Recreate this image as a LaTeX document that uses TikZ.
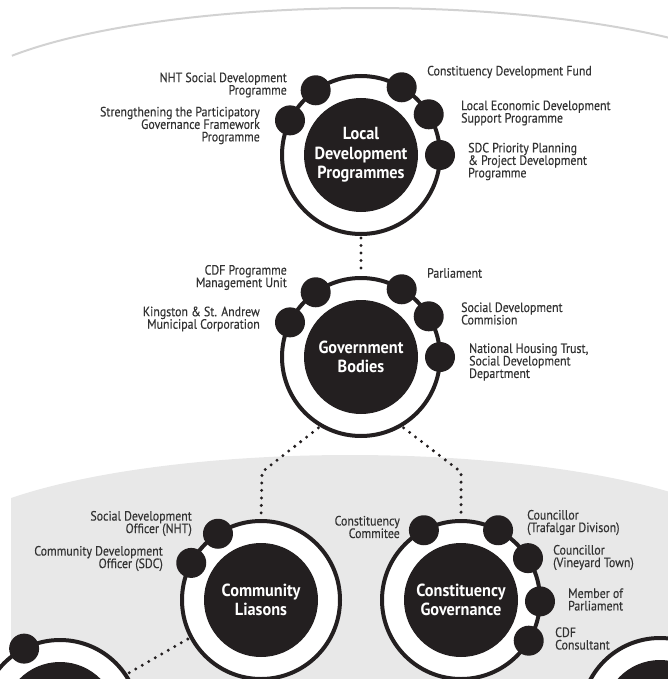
\documentclass[tikz,border=0pt]{standalone}
\usepackage{fontspec}
\newfontfamily\condfont[FakeStretch=0.88,FakeBold=0.3]{PT Sans}
\newfontfamily\condboldfont[FakeStretch=0.93]{PT Sans Bold}
\usepackage{tikz}
\usetikzlibrary{shapes,calc}
\usetikzlibrary{arrows,positioning,backgrounds}
\definecolor{discblack}{HTML}{231F20}
\definecolor{labelgray}{HTML}{333333}
\definecolor{panelgray}{HTML}{E8E8E8}
\definecolor{edgegray}{HTML}{D2D2D2}

\begin{document}
\begin{tikzpicture}[x=1pt, y=-1pt,
  disc/.style={circle, fill=discblack, minimum size=114pt, inner sep=0pt, text=white, align=center, font=\condboldfont\fontsize{17.5}{19.5}\selectfont},
  ring/.style={circle, draw=discblack, line width=4pt, fill=white, minimum size=158pt, inner sep=0pt, outer sep=0pt},
  dot/.style={circle, fill=discblack, minimum size=30pt, inner sep=0pt},
  lbl/.style={text=labelgray, inner sep=0pt, font=\condfont\fontsize{13.5}{12.5}\selectfont},
  lblr/.style={lbl, anchor=east, align=right},
  lbll/.style={lbl, anchor=west, align=left},
  link/.style={discblack, line width=3.3pt, dash pattern=on 0pt off 7.5pt, line cap=round, shorten <=4pt, shorten >=4pt}]
\useasboundingbox (0,0) rectangle (668,679);

\draw[edgegray, line width=2pt] plot[domain=148.5:44.8, samples=80] ({370+420*cos(\x)}, {108-100*sin(\x)});
\fill[panelgray] plot[domain=143.8:40.8, samples=80] ({350+420*cos(\x)}, {560-105*sin(\x)}) -- (668,679) -- (11,679) -- cycle;

% local development programmes
\node[ring] (lpring) at (361,155) {};
\node[disc] (lp) at (361,155) {Local\\Development\\Programmes};
\foreach \a/\n in {125/1,154/2,59/3,31/4,0/5}
  \node[dot] (lp\n) at (lpring.\a) {};
\node[lblr] (lpl1) at (287,85) {NHT Social Development\\Programme};
\node[lblr] (lpl2) at (260,125.5) {Strengthening the Participatory\\Governance Framework\\Programme};
\node[lbll] (lpl3) at (427,72) {Constituency Development Fund};
\node[lbll] (lpl4) at (461,113) {Local Economic Development\\Support Programme};
\node[lbll] (lpl5) at (468,161.5) {SDC Priority Planning\\\& Project Development\\Programme};

% government bodies
\node[ring] (gbring) at (361,357) {};
\node[disc] (gb) at (361,357) {Government\\Bodies};
\foreach \a/\n in {125/1,154/2,59/3,31/4,0/5}
  \node[dot] (gb\n) at (gbring.\a) {};
\node[lblr] (gbl1) at (287,277.5) {CDF Programme\\Management Unit};
\node[lblr] (gbl2) at (260,319) {Kingston \& St. Andrew\\Municipal Corporation};
\node[lbll] (gbl3) at (427,273) {Parliament};
\node[lbll] (gbl4) at (461,313.5) {Social Development\\Commision};
\node[lbll] (gbl5) at (469,362) {National Housing Trust,\\Social Development\\Department};

% community liasons
\node[ring] (clring) at (261,600) {};
\node[disc] (cl) at (261,600) {Community\\Liasons};
\foreach \a/\n in {123/1,152/2}
  \node[dot] (cl\n) at (clring.\a) {};
\node[lblr] (cll1) at (192,523.5) {Social Development\\Officer (NHT)};
\node[lblr] (cll2) at (163,558.5) {Community Development\\Officer (SDC)};

% constituency governance
\node[ring] (cgring) at (461,600) {};
\node[disc] (cg) at (461,600) {Constituency\\Governance};
\foreach \a/\n in {118/1,62/2,32/3,-1/4,-31/5}
  \node[dot] (cg\n) at (cgring.\a) {};
\node[lblr] (cgl1) at (400,527) {Constituency\\Commitee};
\node[lbll] (cgl2) at (527,522.5) {Councillor\\(Trafalgar Divison)};
\node[lbll] (cgl3) at (553,557.5) {Councillor\\(Vineyard Town)};
\node[lbll] (cgl4) at (568,599.5) {Member of\\Parliament};
\node[lbll] (cgl5) at (555,638.5) {CDF\\Consultant};

% partly shown groups below
\node[ring] (blring) at (60,719) {};
\node[disc] (bl) at (60,719) {};
\node[dot] (bl1) at (blring.117) {};
\node[ring] (brring) at (660,717) {};
\node[disc] (br) at (660,717) {};

\coordinate (clbend) at (262,472);
\coordinate (cgbend) at (461,472);
\draw[link] (lpring.south) -- (gbring.north);
\draw[link] (gbring.240) -- (clbend) -- (clring.north);
\draw[link] (gbring.300) -- (cgbend) -- (cgring.north);
\draw[link] (clring.208) -- (blring.34);
\end{tikzpicture}
\end{document}
